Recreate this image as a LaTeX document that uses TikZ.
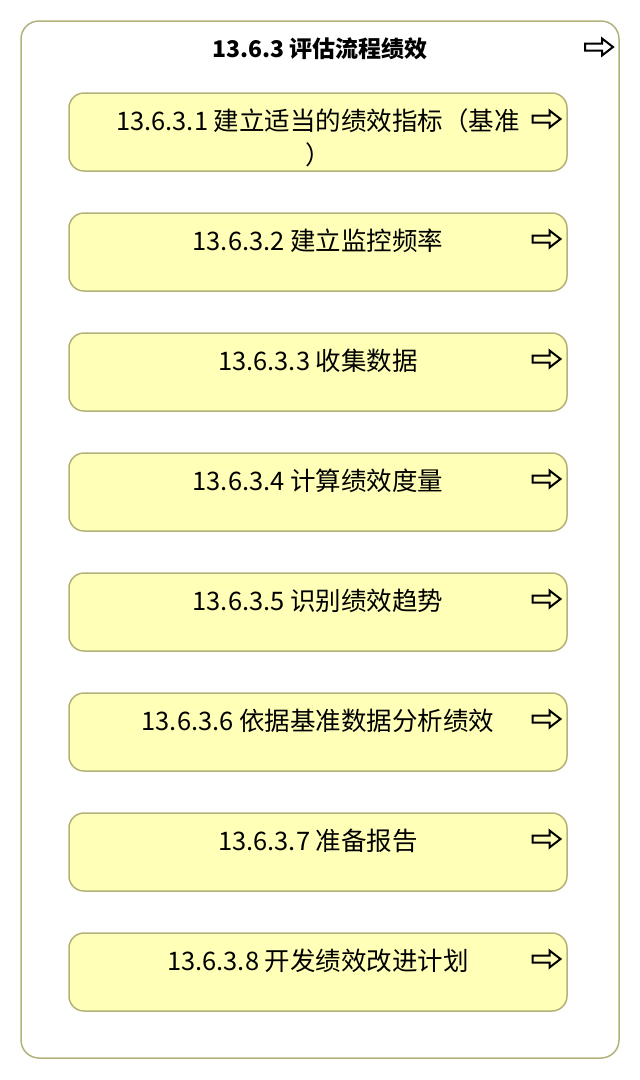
\documentclass[tikz,border=0pt]{standalone}
\usepackage{fontspec}
\setmainfont{Noto Sans CJK SC}
\definecolor{boxline}{RGB}{178,178,122}
\definecolor{boxfill}{RGB}{255,255,183}
\tikzset{
    procbox/.style={draw=boxline,fill=boxfill,line width=1.5pt,rounded corners=15pt,minimum width=498pt,minimum height=78pt,inner sep=0pt},
    proctext/.style={anchor=north,align=center,inner sep=0pt,font=\fontsize{25.5}{34}\selectfont},
    gotoarrow/.pic={\draw[line width=2pt,line join=miter] (-14,-3.5)--(3,-3.5)--(3,-8.5)--(14,0)--(3,8.5)--(3,3.5)--(-14,3.5)--cycle;}
}
\begin{document}
\begin{tikzpicture}[x=1pt,y=-1pt]
    \useasboundingbox (0,0) rectangle (640,1080);
    \node[draw=boxline,line width=1.5pt,rounded corners=18pt,minimum width=598pt,minimum height=1037pt] (group) at (320,539.5) {};
    \node[anchor=base,font=\bfseries\fontsize{23}{28}\selectfont] (title) at (320,57) {13.6.3 评估流程绩效};
    \pic (gotogroup) at (599,47) {gotoarrow};
    \foreach \i/\t in {1/{13.6.3.1 建立适当的绩效指标（基准\\）},2/{13.6.3.2 建立监控频率},3/{13.6.3.3 收集数据},4/{13.6.3.4 计算绩效度量},5/{13.6.3.5 识别绩效趋势},6/{13.6.3.6 依据基准数据分析绩效},7/{13.6.3.7 准备报告},8/{13.6.3.8 开发绩效改进计划}}
    {
        \node[procbox] (box\i) at (318,{12+120*\i}) {};
        \node[proctext] (text\i) at (318,{-11.4+120*\i}) {\t};
        \pic (goto\i) at (546.5,{-1+120*\i}) {gotoarrow};
    }
\end{tikzpicture}
\end{document}
